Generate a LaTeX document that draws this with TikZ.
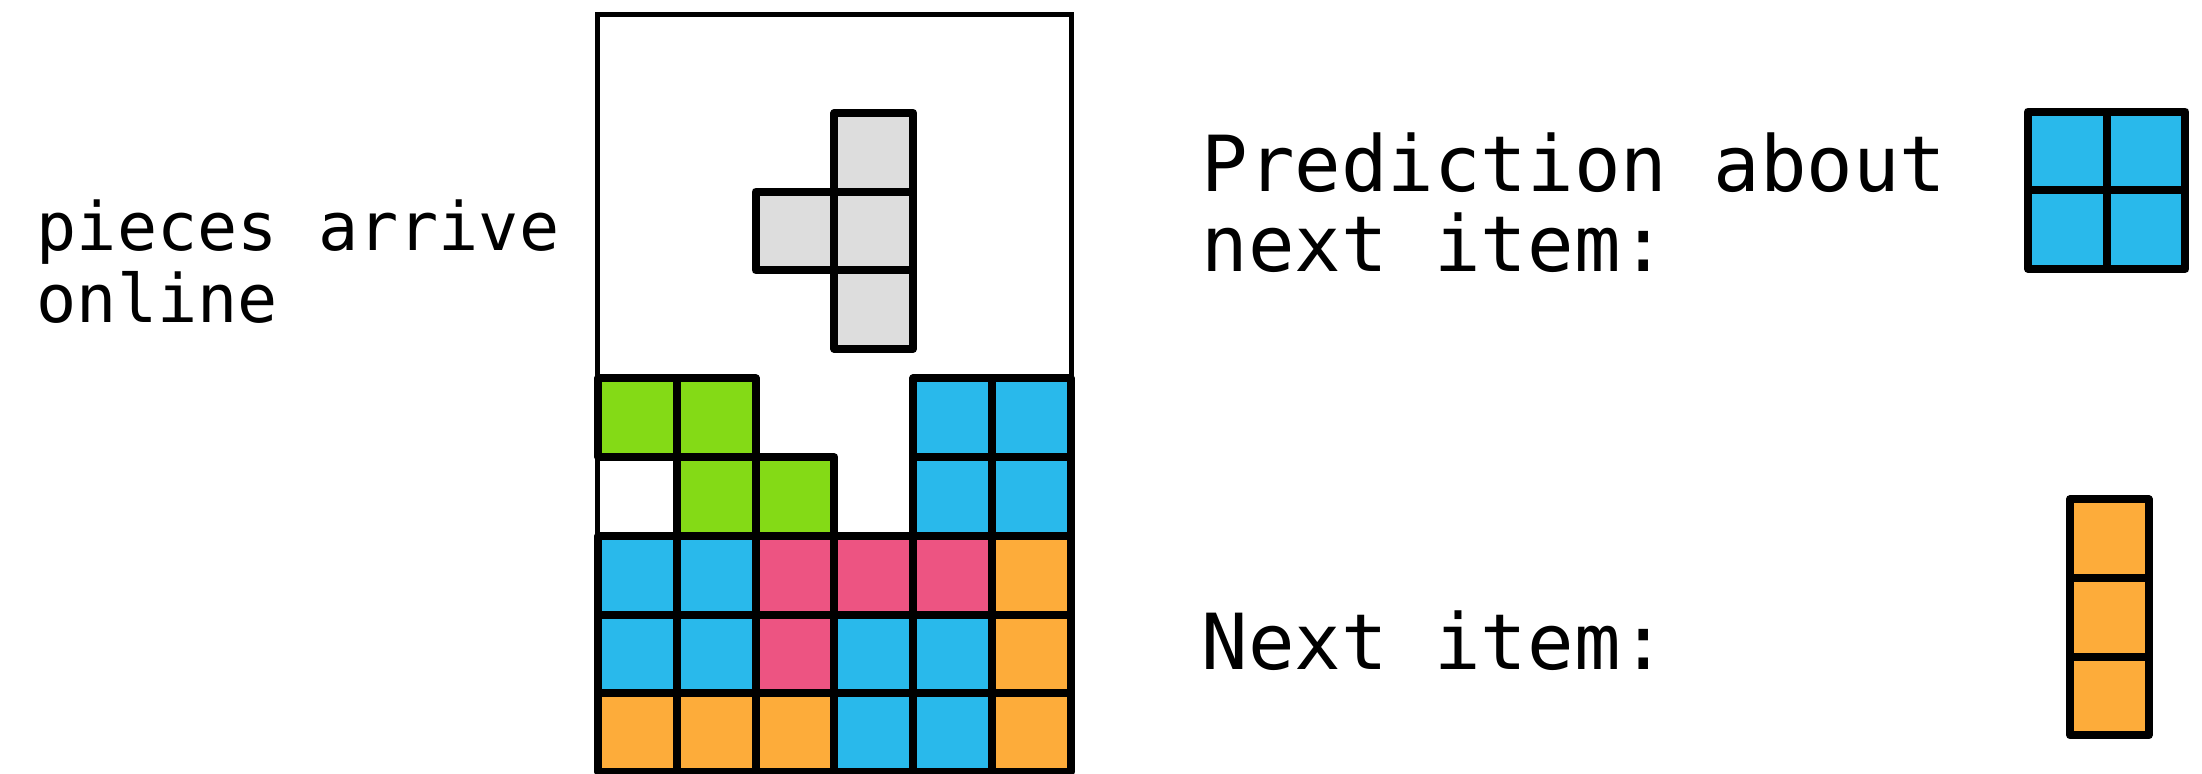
\documentclass[tikz,border=0pt]{standalone}
\usepackage{fontspec}
\newfontfamily\piecefont{DejaVu Sans Mono}
\usepackage{tikz}
\usetikzlibrary{positioning}
\definecolor{tblue}{RGB}{41,185,235}
\definecolor{tgreen}{RGB}{132,218,22}
\definecolor{tpink}{RGB}{237,84,130}
\definecolor{torange}{RGB}{253,172,58}
\definecolor{tgrey}{RGB}{221,221,221}

\begin{document}
\begin{tikzpicture}[
  cellbox/.style={draw=black, line width=0.08cm, line join=round},
  board/.style={draw=black, line width=0.05cm},
  lbl/.style={inner sep=0pt, anchor=base west, align=left},
  bigtxt/.style={lbl, font=\piecefont\fontsize{22}{22.8}\selectfont},
  smalltxt/.style={lbl, font=\piecefont\fontsize{19}{20.5}\selectfont}
]
  \useasboundingbox (0,0) rectangle (22.02,7.74);
  \def\cellsz{0.787}

  % the well
  \draw[board] (5.975,0.02) rectangle (10.715,7.59);
  \foreach \i/\j/\col in {0/0/torange, 1/0/torange, 2/0/torange, 3/0/tblue, 4/0/tblue, 5/0/torange,
                          0/1/tblue, 1/1/tblue, 2/1/tpink, 3/1/tblue, 4/1/tblue, 5/1/torange,
                          0/2/tblue, 1/2/tblue, 2/2/tpink, 3/2/tpink, 4/2/tpink, 5/2/torange,
                          1/3/tgreen, 2/3/tgreen, 4/3/tblue, 5/3/tblue,
                          0/4/tgreen, 1/4/tgreen, 4/4/tblue, 5/4/tblue}
    \draw[cellbox, fill=\col] ({5.983+\i*\cellsz},{0.02+\j*\cellsz}) rectangle ++(\cellsz,\cellsz);

  % falling piece
  \foreach \i/\j in {2/1, 3/0, 3/1, 3/2}
    \draw[cellbox, fill=tgrey] ({5.983+\i*\cellsz},{4.25+\j*\cellsz}) rectangle ++(\cellsz,\cellsz);

  % predicted and actual next pieces
  \foreach \i/\j in {0/0, 1/0, 0/1, 1/1}
    \draw[cellbox, fill=tblue] ({20.28+\i*\cellsz},{5.05+\j*\cellsz}) rectangle ++(\cellsz,\cellsz);
  \foreach \j in {0,1,2}
    \draw[cellbox, fill=torange] (20.70,{0.387+\j*\cellsz}) rectangle ++(\cellsz,\cellsz);

  % base west sits on the last line
  \node[smalltxt] (online) at (0.36,4.51) {pieces arrive\\online};
  \node[bigtxt] (pred) at (12.01,5.02) {Prediction about\\next item:};
  \node[bigtxt] (next) at (12.01,1.04) {Next item:};
\end{tikzpicture}
\end{document}
